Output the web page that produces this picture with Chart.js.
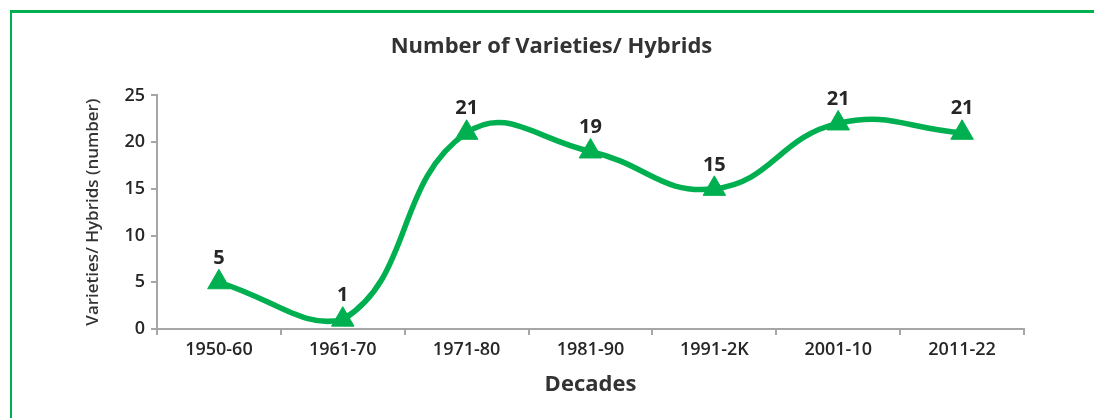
<!DOCTYPE html>
<html>
<head>
<meta charset="utf-8">
<script src="https://cdn.jsdelivr.net/npm/chart.js@4"></script>
<style>
  html, body { margin: 0; padding: 0; background: #fff; }
  #wrap { position: relative; width: 1094px; height: 418px; overflow: hidden; }
  #frame { position: absolute; left: 10px; top: 10px; width: 1200px; height: 500px;
           border-top: 3px solid #00b050; border-left: 2px solid #00b050; }
  canvas { position: absolute; left: 0; top: 0; }
</style>
</head>
<body>
<div id="wrap">
  <div id="frame"></div>
  <canvas id="c" width="1094" height="418"></canvas>
</div>
<script>
const categories = ["1950-60", "1961-70", "1971-80", "1981-90", "1991-2K", "2001-10", "2011-22"];
const varieties = [5, 1, 21, 19, 15, 22, 21];
const pointLabels = ["5", "1", "21", "19", "15", "21", "21"];
const yTicks = [0, 5, 10, 15, 20, 25];

const GREEN = '#00b050';
const AXIS = '#a6a6a6';
const TEXT = '#262626';
const FONT = "'Open Sans', 'DejaVu Sans', sans-serif";

const labelPlugin = {
  id: 'pointLabels',
  afterDatasetsDraw(chart) {
    const ctx = chart.ctx;
    const meta = chart.getDatasetMeta(0);
    ctx.save();
    ctx.font = `bold 20px ${FONT}`;
    ctx.fillStyle = TEXT;
    ctx.textAlign = 'center';
    ctx.textBaseline = 'middle';
    meta.data.forEach((pt, i) => {
      ctx.fillText(pointLabels[i], pt.x, pt.y - 24);
    });
    ctx.restore();
  }
};

new Chart(document.getElementById('c'), {
  type: 'line',
  data: {
    labels: categories,
    datasets: [{
      data: varieties,
      borderColor: GREEN,
      backgroundColor: GREEN,
      borderWidth: 5.5,
      tension: 0.45,
      pointStyle: 'triangle',
      pointRadius: 13,
      pointBorderWidth: 1,
      pointBackgroundColor: GREEN,
      pointBorderColor: GREEN,
      clip: false
    }]
  },
  options: {
    responsive: false,
    animation: false,
    devicePixelRatio: 1,
    layout: { padding: { left: 79, right: 70, top: 34, bottom: 16 } },
    plugins: {
      legend: { display: false },
      tooltip: { enabled: false },
      title: {
        display: true,
        text: 'Number of Varieties/ Hybrids',
        color: '#333',
        font: { family: FONT, size: 22, weight: 'bold' },
        padding: { top: 0, bottom: 35 }
      }
    },
    scales: {
      x: {
        offset: true,
        grid: { display: true, drawOnChartArea: false, drawTicks: true, tickLength: 6, color: AXIS, lineWidth: 2, offset: true },
        border: { display: true, color: AXIS, width: 2 },
        ticks: { color: TEXT, font: { family: FONT, size: 18, weight: '600' }, padding: 4, maxRotation: 0 },
        title: { display: true, text: 'Decades', color: '#333', font: { family: FONT, size: 22, weight: 'bold' }, padding: { top: 7 } }
      },
      y: {
        min: 0, max: 25,
        afterBuildTicks(scale) { scale.ticks = yTicks.map(v => ({ value: v })); },
        grid: { display: true, drawOnChartArea: false, drawTicks: true, tickLength: 6, color: AXIS, lineWidth: 2 },
        border: { display: true, color: AXIS, width: 2 },
        ticks: { color: TEXT, font: { family: FONT, size: 18, weight: '600' }, padding: 6 },
        title: { display: true, text: 'Varieties/ Hybrids (number)', color: '#333', font: { family: FONT, size: 17, weight: '600' }, padding: { bottom: 15 } }
      }
    }
  },
  plugins: [labelPlugin]
});
</script>
</body>
</html>
